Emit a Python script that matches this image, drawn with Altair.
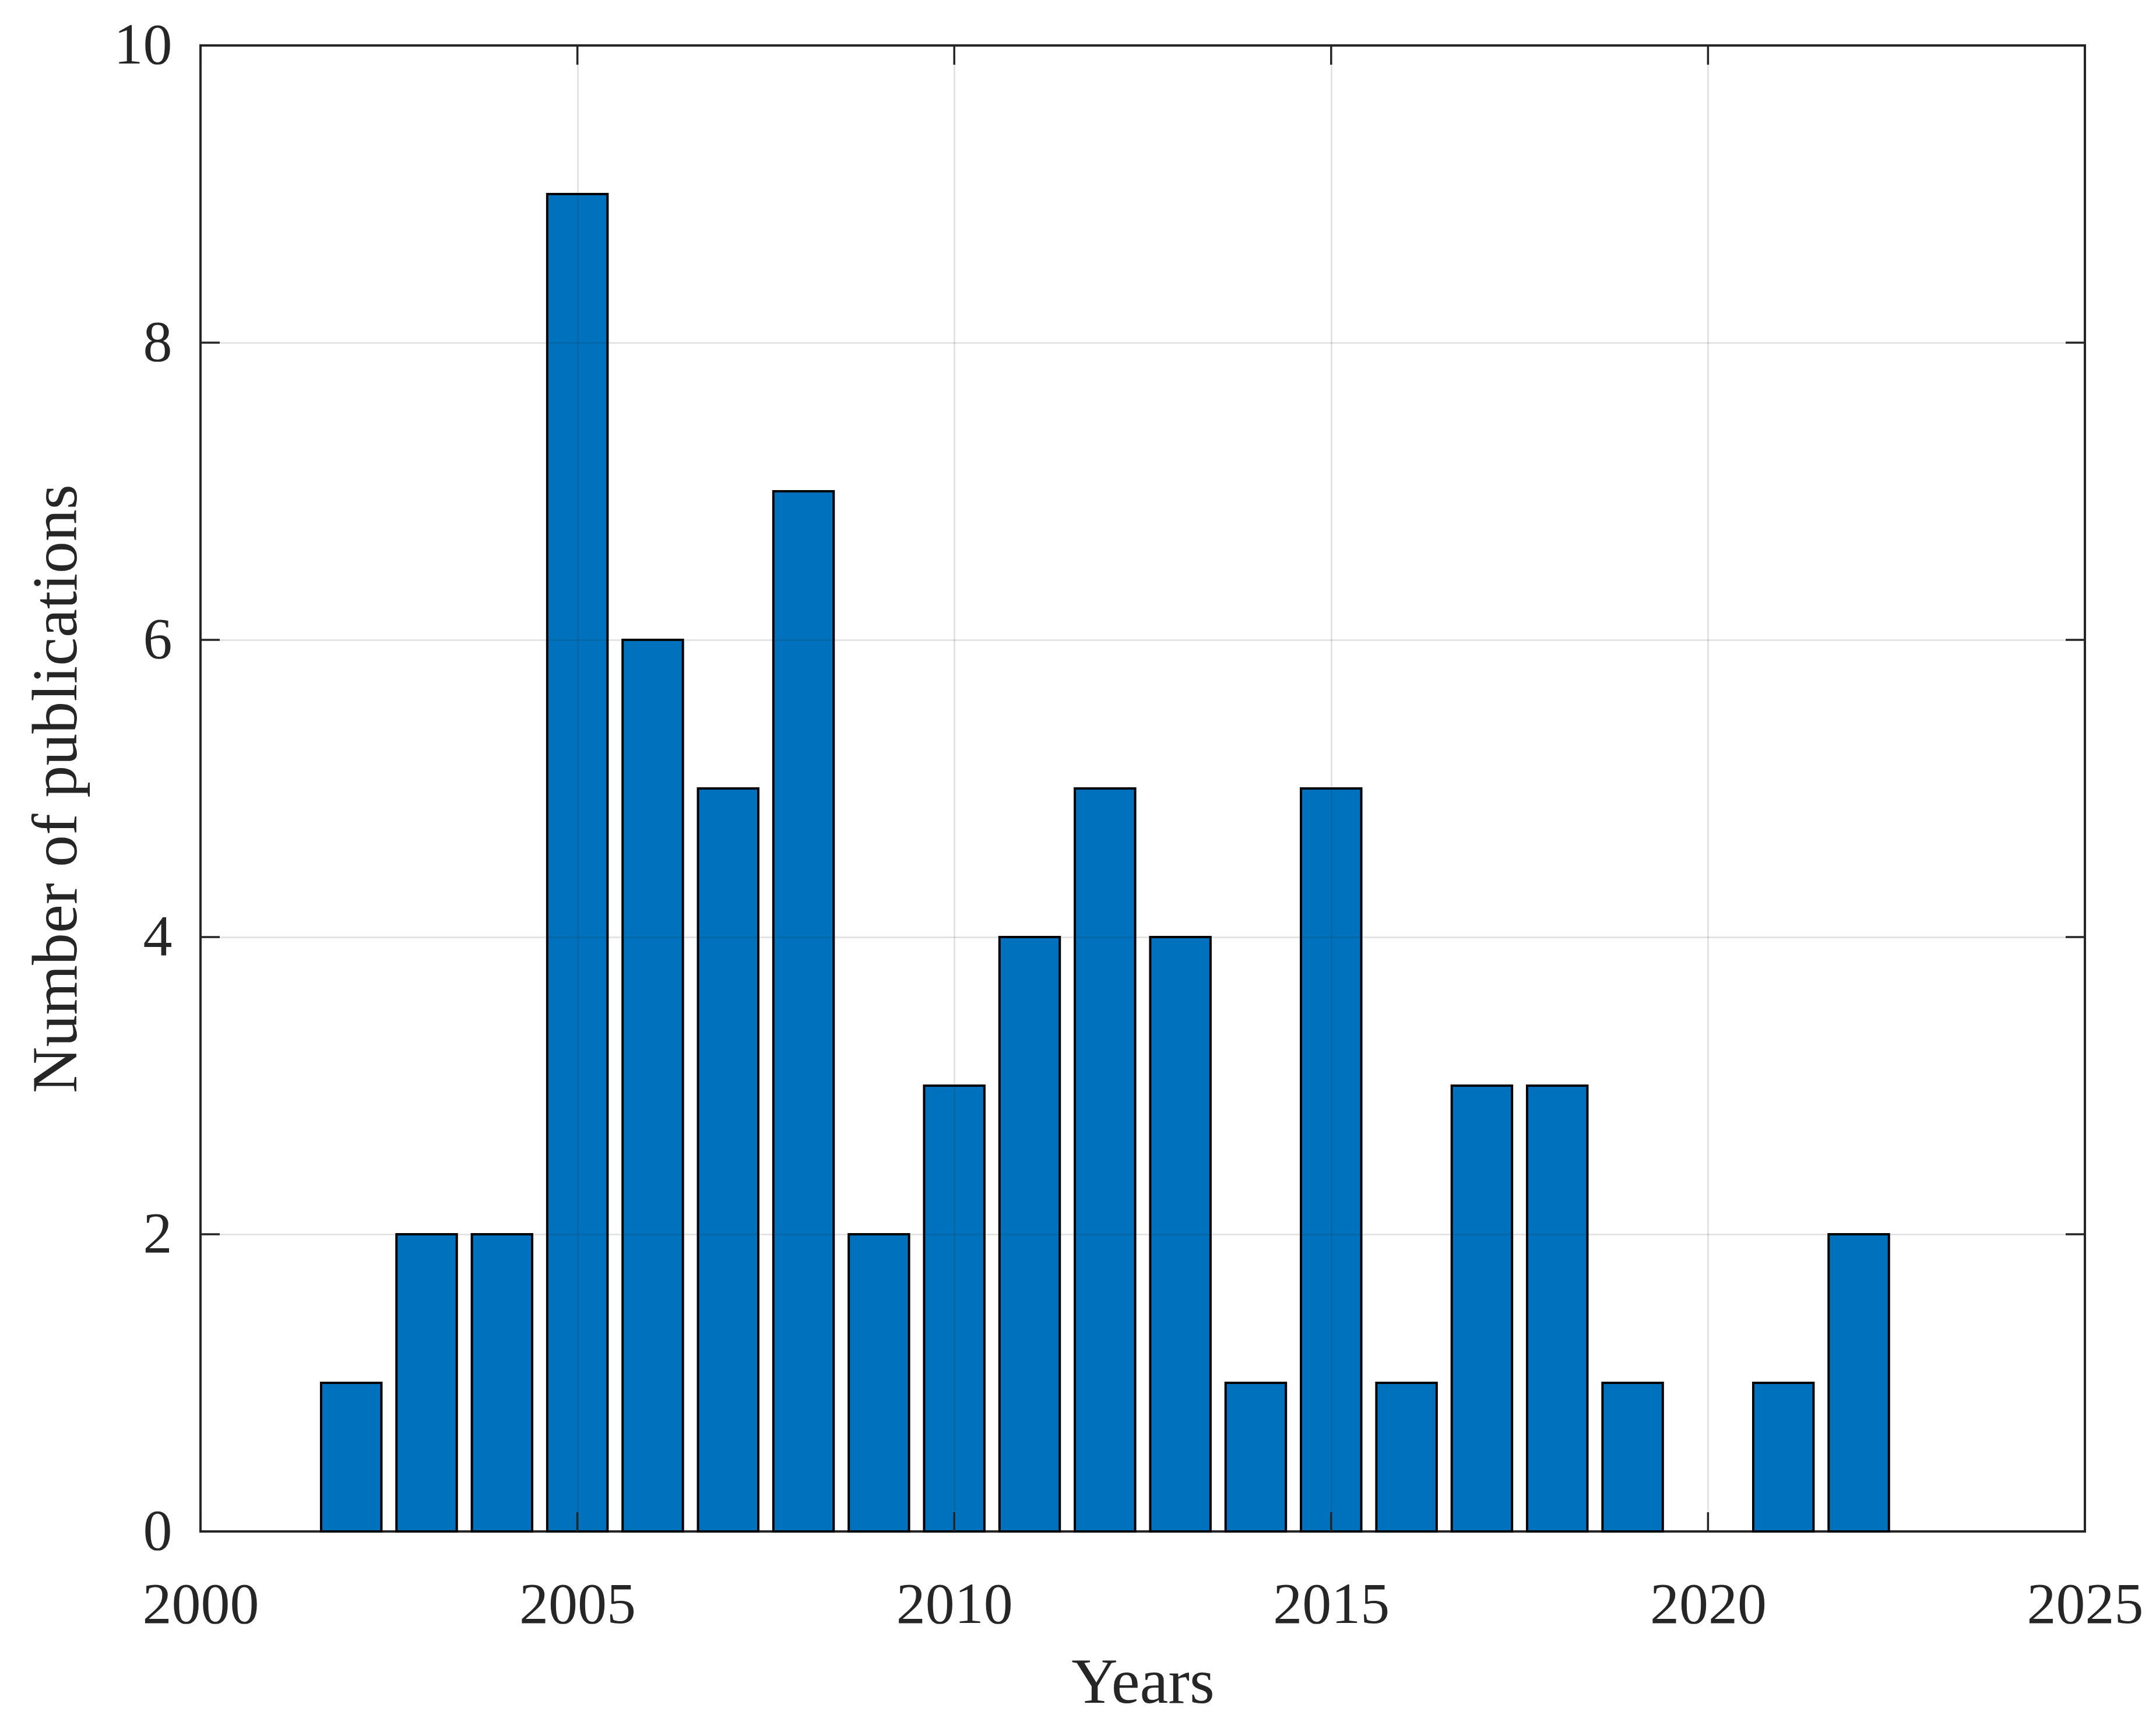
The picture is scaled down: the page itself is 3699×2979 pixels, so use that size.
import altair as alt
import pandas as pd

years = [2002, 2003, 2004, 2005, 2006, 2007, 2008, 2009, 2010, 2011, 2012,
         2013, 2014, 2015, 2016, 2017, 2018, 2019, 2020, 2021, 2022]
counts = [1, 2, 2, 9, 6, 5, 7, 2, 3, 4, 5, 4, 1, 5, 1, 3, 3, 1, 0, 1, 2]
x_ticks = [2000, 2005, 2010, 2015, 2020, 2025]
y_ticks = [0, 2, 4, 6, 8, 10]

W, H = 3233, 2550
TICK = 33
FONT = "Liberation Serif"
AX = "#262626"

df = pd.DataFrame({"year": years, "count": counts})
xt = pd.DataFrame({"t": x_ticks})
yt = pd.DataFrame({"t": y_ticks})

xscale = alt.Scale(domain=[2000, 2025], nice=False, zero=False)
yscale = alt.Scale(domain=[0, 10], nice=False)

xaxis = alt.Axis(values=x_ticks, format="d", title="Years", grid=True,
                 gridColor=AX, gridOpacity=0.15, gridWidth=2.5,
                 ticks=False, tickSize=0, domain=False, labelFlush=False,
                 labelLimit=2000,
                 labelFont=FONT, labelFontSize=100, labelColor=AX,
                 labelBaseline="alphabetic", labelPadding=156,
                 titleFont=FONT, titleFontSize=110, titleFontWeight="normal",
                 titleColor=AX, titleBaseline="alphabetic", titleY=293,
                 titleX=W / 2, titleAlign="center", zindex=1)
yaxis = alt.Axis(values=y_ticks, format="d", title="Number of publications",
                 grid=True, gridColor=AX, gridOpacity=0.15, gridWidth=2.5,
                 ticks=False, tickSize=0, domain=False, labelFlush=False,
                 labelLimit=2000,
                 labelFont=FONT, labelFontSize=100, labelColor=AX,
                 labelBaseline="middle", labelPadding=49,
                 titleFont=FONT, titleFontSize=110, titleFontWeight="normal",
                 titleColor=AX, titleAngle=270, titleBaseline="alphabetic",
                 titleX=-214, titleY=H / 2, titleAlign="center", zindex=1)

bars = alt.Chart(df).transform_filter("datum.count > 0").transform_calculate(
    x0="datum.year - 0.4", x1="datum.year + 0.4"
).mark_bar(color="#0072BD", stroke="black", strokeWidth=4).encode(
    x=alt.X("x0:Q", scale=xscale, axis=xaxis),
    x2="x1:Q",
    y=alt.Y("count:Q", scale=yscale, axis=yaxis),
    y2=alt.datum(0),
)

tick_style = dict(color=AX, strokeWidth=3.5)
xb = alt.Chart(xt).mark_rule(**tick_style).encode(
    x=alt.X("t:Q", scale=xscale), y=alt.value(H), y2=alt.value(H - TICK))
xtop = alt.Chart(xt).mark_rule(**tick_style).encode(
    x=alt.X("t:Q", scale=xscale), y=alt.value(0), y2=alt.value(TICK))
yl = alt.Chart(yt).mark_rule(**tick_style).encode(
    y=alt.Y("t:Q", scale=yscale), x=alt.value(0), x2=alt.value(TICK))
yr = alt.Chart(yt).mark_rule(**tick_style).encode(
    y=alt.Y("t:Q", scale=yscale), x=alt.value(W), x2=alt.value(W - TICK))

chart = alt.layer(bars, xb, xtop, yl, yr).properties(
    width=W, height=H,
    autosize=alt.AutoSizeParams(type="none"),
    padding={"left": 336, "top": 70, "right": 100, "bottom": 320},
    background="white",
).configure_view(stroke=AX, strokeWidth=4)

chart.save("out.html", embed_options={"renderer": "svg", "actions": False})
